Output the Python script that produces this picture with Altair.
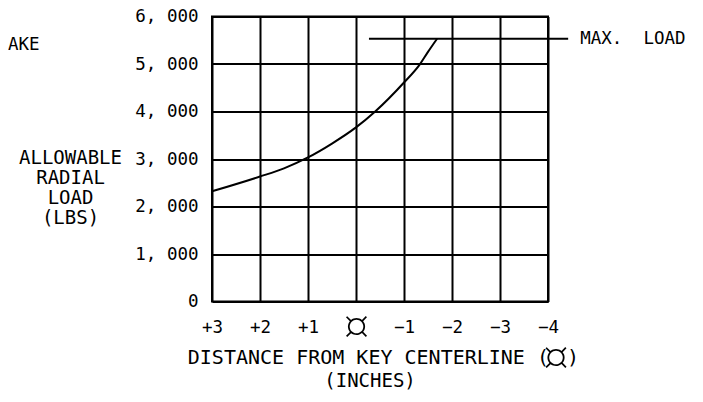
import altair as alt
import pandas as pd

# Curve data (distance from key centerline in inches, allowable radial load in lbs)
distance = [3.0, 2.0, 1.5, 1.0, 0.5, 0.0, -0.4, -1.0, -1.33, -1.5, -1.69]
load = [2320, 2631, 2804, 3033, 3325, 3665, 4000, 4610, 4992, 5255, 5533]

x_ticks = [3, 2, 1, 0, -1, -2, -3, -4]
y_ticks = [0, 1000, 2000, 3000, 4000, 5000, 6000]

max_load_value = [5533]
max_line_start = [-0.27]
max_line_end = [-4.42]
max_label_x = [-4.67]
max_label = ["MAX.\u00a0 LOAD"]

x_title_main = "DISTANCE FROM KEY CENTERLINE ("
x_title_symbol = "¤"
x_title_close = ")"
x_title_units = "(INCHES)"
y_title = ["ALLOWABLE", "RADIAL", "LOAD", "(LBS)"]
corner_text = "AKE"

MONO = "DejaVu Sans Mono"
SYM_FONT = "Lato"
SYM_WEIGHT = 300
FS_LAB = 17.5
FS_TTL = 19
FS_XTTL = 20
SYM_FS = 50
LW = 2

curve_df = pd.DataFrame({"distance": distance, "load": load})
max_df = pd.DataFrame({"x1": max_line_start, "x2": max_line_end, "y": max_load_value,
                       "lx": max_label_x, "label": max_label})
txt_df = pd.DataFrame({"main": [x_title_main], "sym": [x_title_symbol], "close": [x_title_close],
                       "units": [x_title_units], "corner": [corner_text]})

x_scale = alt.Scale(domain=[3, -4], nice=False, zero=False)
y_scale = alt.Scale(domain=[0, 6000], nice=False)

x_axis = alt.Axis(
    values=x_ticks,
    labelExpr="datum.value > 0 ? '+' + datum.value : (datum.value == 0 ? '¤' : '\u2212' + abs(datum.value))",
    title="",
    labelFont={"condition": {"test": "datum.value == 0", "value": SYM_FONT}, "value": MONO},
    labelFontSize={"condition": {"test": "datum.value == 0", "value": SYM_FS}, "value": FS_LAB},
    labelFontWeight={"condition": {"test": "datum.value == 0", "value": SYM_WEIGHT}, "value": 400},
    labelColor="black", labelPadding=26, labelBaseline="middle", labelFlush=False,
    ticks=False, domain=False, grid=True, gridColor="black", gridWidth=LW, gridOpacity=1,
)
y_axis = alt.Axis(
    values=y_ticks,
    labelExpr="replace(format(datum.value, ','), ',', ', ')",
    title=y_title,
    titleAngle=0, titleAlign="center", titleBaseline="alphabetic",
    titleX=-142, titleY=147, titleLineHeight=20,
    titleFont=MONO, titleFontSize=FS_TTL, titleFontWeight="normal", titleColor="black",
    labelFont=MONO, labelFontSize=FS_LAB, labelColor="black", labelPadding=14, labelFlush=False,
    ticks=False, domain=False, grid=True, gridColor="black", gridWidth=LW, gridOpacity=1,
)

curve = alt.Chart(curve_df).mark_line(color="black", strokeWidth=LW, interpolate="monotone").encode(
    x=alt.X("distance:Q", scale=x_scale, axis=x_axis),
    y=alt.Y("load:Q", scale=y_scale, axis=y_axis),
)

max_rule = alt.Chart(max_df).mark_rule(color="black", strokeWidth=LW, clip=False).encode(
    x=alt.X("x1:Q", scale=x_scale),
    x2="x2:Q",
    y=alt.Y("y:Q", scale=y_scale),
)

max_text = alt.Chart(max_df).mark_text(align="left", baseline="middle", font=MONO, fontSize=FS_LAB,
                                       color="black", clip=False).encode(
    x=alt.X("lx:Q", scale=x_scale),
    y=alt.Y("y:Q", scale=y_scale),
    text="label:N",
)

base_txt = alt.Chart(txt_df)
title_main = base_txt.mark_text(align="right", baseline="middle", font=MONO, fontSize=FS_XTTL,
                                color="black").encode(x=alt.value(337), y=alt.value(341.5), text="main:N")
title_sym = base_txt.mark_text(align="center", baseline="middle", font=SYM_FONT, fontSize=SYM_FS,
                               fontWeight=SYM_WEIGHT, color="black").encode(
    x=alt.value(344), y=alt.value(342), text="sym:N")
title_close = base_txt.mark_text(align="left", baseline="middle", font=MONO, fontSize=FS_XTTL,
                                 color="black").encode(x=alt.value(355), y=alt.value(341.5), text="close:N")
title_units = base_txt.mark_text(align="center", baseline="middle", font=MONO, fontSize=FS_TTL,
                                 color="black").encode(x=alt.value(158), y=alt.value(364), text="units:N")
corner = base_txt.mark_text(align="left", baseline="middle", font=MONO, fontSize=FS_LAB,
                            color="black").encode(x=alt.value(-204), y=alt.value(28), text="corner:N")

chart = alt.layer(curve, max_rule, max_text, title_main, title_sym, title_close, title_units, corner).properties(
    width=336, height=285,
    autosize=alt.AutoSizeParams(type="none"),
    padding={"left": 204, "top": 8.5, "right": 147, "bottom": 92},
    background="white",
).configure_view(stroke="black", strokeWidth=LW)

chart.save("out.html", embed_options={"renderer": "svg", "actions": False})
